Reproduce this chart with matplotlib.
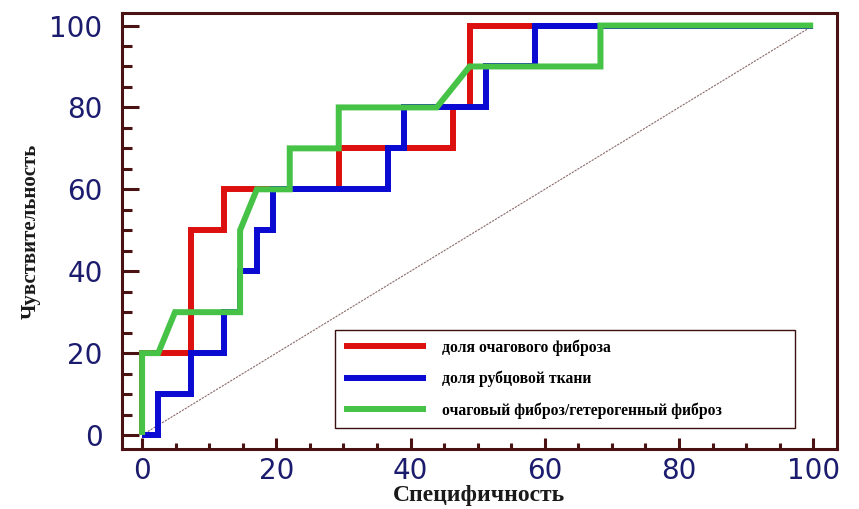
import matplotlib.pyplot as plt
from matplotlib.ticker import MultipleLocator

# ROC-кривые: 1 - специфичность (%) и чувствительность (%)
red_x = [0, 0, 7.3, 7.3, 12.2, 12.2, 29.3, 29.3, 46.3, 46.3, 48.8, 48.8, 100]
red_y = [0, 20, 20, 50, 50, 60, 60, 70, 70, 80, 80, 100, 100]

blue_x = [0, 2.4, 2.4, 7.3, 7.3, 12.2, 12.2, 14.6, 14.6, 17.1, 17.1, 19.5, 19.5,
          36.6, 36.6, 39.0, 39.0, 51.2, 51.2, 58.5, 58.5, 100]
blue_y = [0, 0, 10, 10, 20, 20, 30, 30, 40, 40, 50, 50, 60,
          60, 70, 70, 80, 80, 90, 90, 100, 100]

green_x = [0, 0, 2.4, 4.9, 14.6, 14.6, 17.1, 22.0, 22.0, 29.3, 29.3, 43.9, 48.8,
           68.3, 68.3, 100]
green_y = [0, 20, 20, 30, 30, 50, 60, 60, 70, 70, 80, 80, 90,
           90, 100, 100]

labels = ["доля очагового фиброза",
          "доля рубцовой ткани",
          "очаговый фиброз/гетерогенный фиброз"]
colors = ["#dd1010", "#0a0ad2", "#46c246"]

spine_col = "#4a1212"
tick_col = "#1c1c6e"

fig = plt.figure(figsize=(8.59, 5.09), dpi=100)
ax = fig.add_axes([0.142, 0.118, 0.832, 0.856])

ax.plot([0, 100], [0, 100], color="#8a6a6a", lw=0.8, ls=(0, (2, 1)))
for xs, ys, c, lab in zip([red_x, blue_x, green_x], [red_y, blue_y, green_y], colors, labels):
    ax.plot(xs, ys, color=c, lw=4.3, label=lab,
            solid_capstyle="butt", solid_joinstyle="miter")

ax.set_xlim(-3, 103.5)
ax.set_ylim(-3.4, 103)

ax.xaxis.set_major_locator(MultipleLocator(20))
ax.xaxis.set_minor_locator(MultipleLocator(5))
ax.yaxis.set_major_locator(MultipleLocator(20))
ax.yaxis.set_minor_locator(MultipleLocator(5))

for s in ax.spines.values():
    s.set_color(spine_col)
    s.set_linewidth(2.2)

ax.tick_params(axis="x", which="major", direction="in", length=8, width=2.2,
               color=spine_col, pad=6, labelsize=20, labelcolor=tick_col)
ax.tick_params(axis="x", which="minor", direction="in", length=4.5, width=2.2,
               color=spine_col)
ax.tick_params(axis="y", which="major", direction="in", length=12, width=2.2,
               color=spine_col, pad=14, labelsize=20, labelcolor=tick_col)
ax.tick_params(axis="y", which="minor", direction="in", length=7, width=2.2,
               color=spine_col)

ax.set_xlabel("Специфичность", family="Liberation Serif", fontweight="bold",
              fontsize=17, color="#1a1a1a", labelpad=0)
ax.set_ylabel("Чувствительность", family="Liberation Serif", fontweight="bold",
              fontsize=15, color="#1a1a1a", labelpad=6)

leg = fig.legend(loc="lower left", bbox_to_anchor=(0.39, 0.159, 0.535, 0.193),
                 mode="expand", borderaxespad=0, fancybox=False,
                 edgecolor="#3a1010", framealpha=1,
                 prop={"family": "Liberation Serif", "weight": "bold", "size": 11.3},
                 handlelength=5.2, handletextpad=1.0, labelspacing=0.95,
                 borderpad=0.6)
leg.get_frame().set_linewidth(1.0)

fig.savefig("out.png", dpi=100)
